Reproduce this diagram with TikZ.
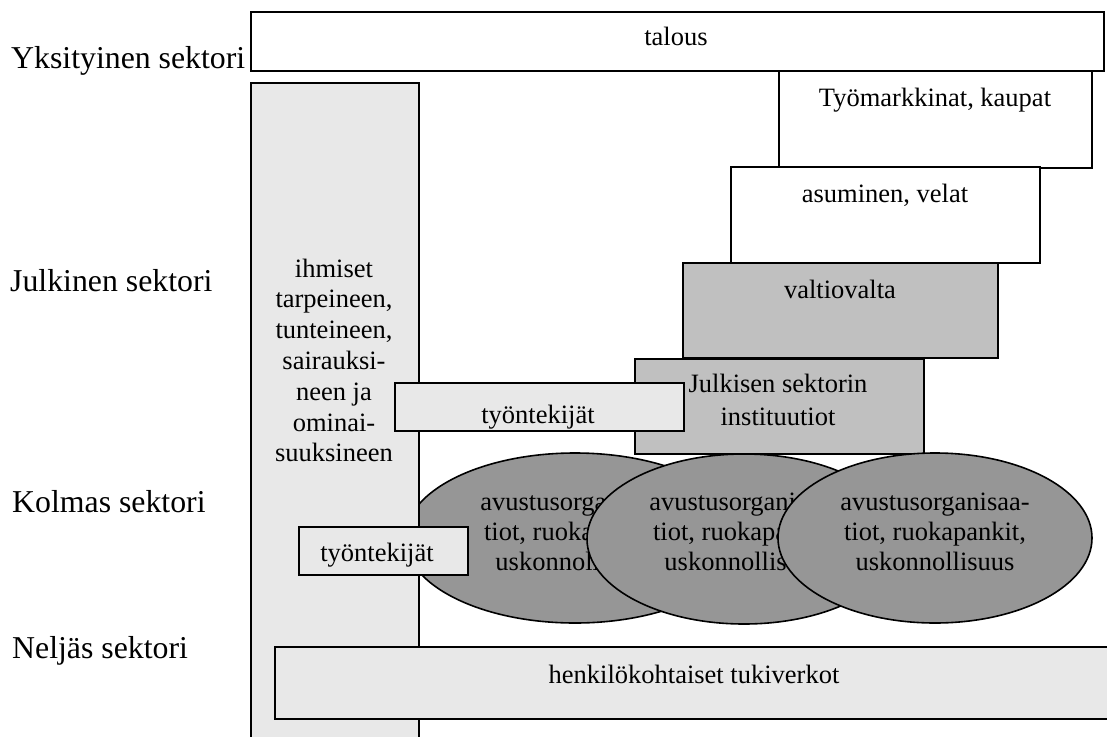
\documentclass[tikz,border=0pt]{standalone}
\usepackage{fontspec}
\setmainfont{Liberation Serif}
\usetikzlibrary{shapes.geometric}
\definecolor{lightfill}{gray}{0.91}
\definecolor{midfill}{gray}{0.753}
\definecolor{darkfill}{gray}{0.59}
\newcommand\bxfont{\fontsize{26.5}{30.8}\selectfont}
\newcommand\jlfont{\fontsize{26.5}{33}\selectfont}
\newcommand\elfont{\fontsize{26.5}{30}\selectfont}
\newcommand\lblfont{\fontsize{31.8}{38}\selectfont}
\newcommand\lns[1]{\begin{tabular}[t]{@{}c@{}}#1\end{tabular}}
\tikzset{
  bx/.style={draw, line width=1.6pt, rectangle, inner sep=0pt, anchor=north west},
  ell/.style={draw, ellipse, fill=darkfill, line width=1.6pt, inner sep=0pt},
  txt/.style={anchor=base, inner sep=0pt, font=\bxfont},
  lbl/.style={anchor=base west, inner sep=0pt, font=\lblfont}
}
\begin{document}
\begin{tikzpicture}[x=1pt,y=-1pt]
\useasboundingbox[fill=white] (0,0) rectangle (1107,736);
% left labels
\node[lbl] (l1) at (11,68) {Yksityinen sektori};
\node[lbl] (l2) at (10,291) {Julkinen sektori};
\node[lbl] (l3) at (12,512) {Kolmas sektori};
\node[lbl] (l4) at (12,658) {Neljäs sektori};
% staircase boxes
\node[bx, fill=white, minimum width=853, minimum height=59] (talous) at (250,11) {};
\node[txt] (talousT) at (676,45) {talous};
\node[bx, fill=white, minimum width=313, minimum height=97] (tyom) at (778,70) {};
\node[txt] (tyomT) at (935,106) {Työmarkkinat, kaupat};
\node[bx, fill=white, minimum width=309, minimum height=96] (asum) at (730,166) {};
\node[txt] (asumT) at (885,202) {asuminen, velat};
\node[bx, fill=midfill, minimum width=315, minimum height=95] (valtio) at (682,262) {};
\node[txt] (valtioT) at (840,298) {valtiovalta};
\node[bx, fill=midfill, minimum width=289, minimum height=95] (julk) at (634,358) {};
\node[txt, font=\jlfont] (julkT) at (778,392) {\lns{Julkisen sektorin\\instituutiot}};
% ellipses
\node[ell, minimum width=340, minimum height=170] (e1) at (575,538) {};
\node[txt, font=\elfont] (e1T) at (575,510) {\lns{avustusorganisaa-\\tiot, ruokapankit,\\uskonnollisuus}};
\node[ell, minimum width=314, minimum height=170] (e2) at (744,539) {};
\node[txt, font=\elfont] (e2T) at (744,510) {\lns{avustusorganisaa-\\tiot, ruokapankit,\\uskonnollisuus}};
\node[ell, minimum width=314, minimum height=170] (e3) at (935,538) {};
\node[txt, font=\elfont] (e3T) at (935,510) {\lns{avustusorganisaa-\\tiot, ruokapankit,\\uskonnollisuus}};
% people column
\node[bx, fill=lightfill, minimum width=168, minimum height=663] (col) at (250,82) {};
\node[txt] (colT) at (334,277) {\lns{ihmiset\\tarpeineen,\\tunteineen,\\sairauksi-\\neen ja\\ominai-\\suuksineen}};
% workers
\node[bx, fill=lightfill, minimum width=289, minimum height=48] (w1) at (394,382) {};
\node[txt] (w1T) at (538,423) {työntekijät};
\node[bx, fill=lightfill, minimum width=169, minimum height=48] (w2) at (298,526) {};
\node[txt] (w2T) at (377,561) {työntekijät};
% personal networks
\node[bx, fill=lightfill, minimum width=846, minimum height=72] (henk) at (274,646) {};
\node[txt] (henkT) at (694,683) {henkilökohtaiset tukiverkot};
\end{tikzpicture}
\end{document}
